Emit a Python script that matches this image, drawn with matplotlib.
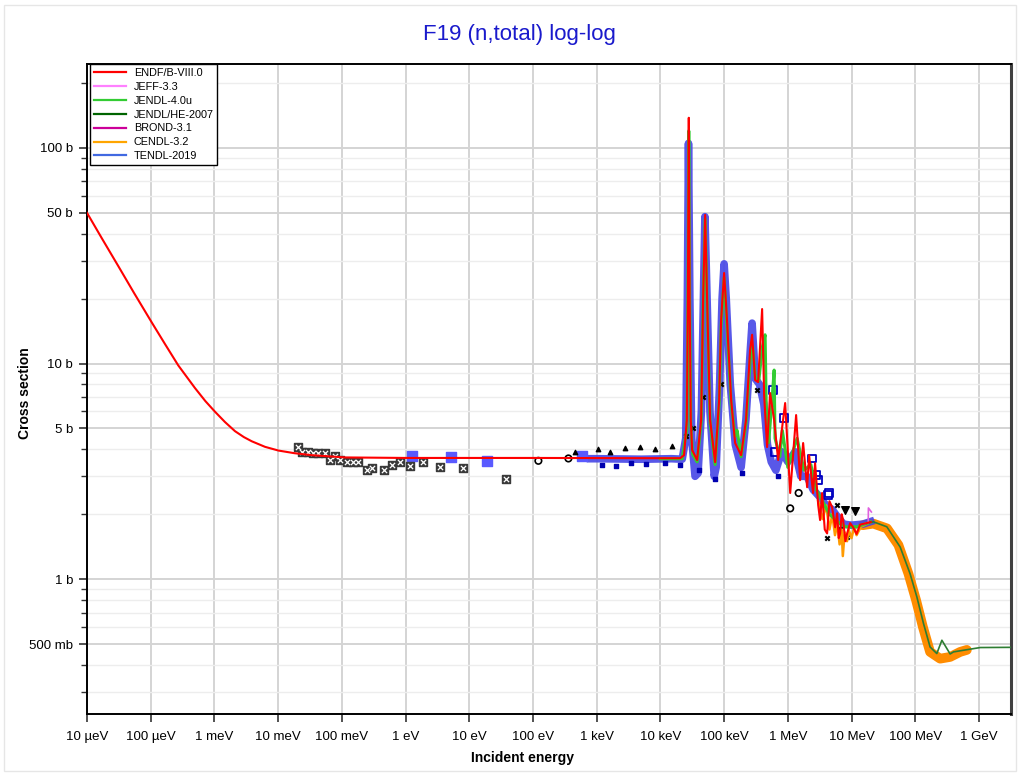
import matplotlib
matplotlib.use("Agg")
import matplotlib.pyplot as plt
from matplotlib.lines import Line2D
from matplotlib.patches import Rectangle
from matplotlib.ticker import FixedLocator, NullLocator, NullFormatter

plt.rcParams['font.family'] = ['Liberation Sans', 'DejaVu Sans']

# ENDF/B-VIII.0 total cross section (energy in eV, cross section in b)
endf_e = [1e-5, 1.7e-5, 3.1e-5, 5.5e-5, 1.04e-4, 1.68e-4, 2.71e-4, 4.95e-4, 7.2e-4,
          1.02e-3, 1.47e-3, 2.1e-3, 2.9e-3, 3.86e-3, 6.22e-3, 1.01e-2, 1.8e-2, 3.36e-2,
          0.112, 1.0, 100.0, 1e4, 2.04e4,
          2.35e4, 2.6e4, 2.7e4, 2.79e4, 2.88e4, 3.0e4, 3.15e4, 3.77e4, 4.36e4, 4.68e4,
          5.04e4, 5.41e4, 6.03e4, 7.23e4, 8.36e4, 8.98e4, 1.0e5, 1.11e5, 1.29e5, 1.49e5,
          1.85e5, 2.21e5, 2.56e5, 2.75e5, 3.07e5, 3.42e5, 3.95e5, 4.25e5, 4.73e5, 5.27e5,
          6.1e5, 7.05e5, 9.08e5, 1.09e6, 1.35e6, 1.56e6, 1.74e6, 2.01e6, 2.16e6,
          2.49e6, 2.68e6, 3.0e6, 3.21e6, 3.45e6, 3.8e6, 4.14e6, 4.5e6, 4.95e6, 5.53e6,
          5.94e6, 6.3e6, 6.62e6, 7.0e6, 7.38e6, 8.0e6, 8.53e6, 9.5e6, 1.06e7, 1.2e7,
          1.36e7, 2.0e7]
endf_xs = [50.0, 38.2, 28.3, 21.2, 15.5, 12.3, 9.8, 7.7, 6.7,
           5.98, 5.35, 4.86, 4.56, 4.36, 4.11, 3.95, 3.84, 3.76,
           3.67, 3.65, 3.65, 3.64, 3.64,
           3.76, 5.47, 19.7, 138.0, 19.7, 5.47, 3.97, 3.57, 5.47, 19.7,
           48.9, 19.7, 5.47, 3.49, 6.77, 15.9, 26.3, 15.9, 6.77, 4.28,
           3.76, 5.47, 11.6, 13.6, 8.38, 8.2, 17.9, 7.14, 4.10, 7.30,
           5.47, 3.57, 6.56, 2.51, 5.77, 2.88, 4.28, 2.67, 3.76,
           2.51, 3.45, 2.2, 1.88, 2.51, 1.7, 1.63, 2.3, 2.16, 1.74,
           2.02, 1.55, 1.63, 2.0, 1.88, 1.5, 1.63, 1.82, 1.74, 1.62,
           1.79, 1.84]

# JENDL-4.0u (resonance region, where it shows under ENDF)
jendl4_e = [1e4, 2.2e4, 2.6e4, 2.7e4, 2.79e4, 2.88e4, 3.0e4, 3.2e4, 3.77e4, 4.36e4,
            4.68e4, 5.04e4, 5.41e4, 6.03e4, 7.23e4, 8.36e4, 8.98e4, 1.0e5, 1.11e5,
            1.29e5, 1.49e5, 1.6e5, 1.85e5, 2.21e5, 2.6e5, 2.8e5, 3.1e5, 3.5e5, 4.0e5,
            4.4e5, 4.6e5, 5.0e5, 5.6e5, 6.1e5, 6.3e5, 7.5e5, 8.2e5, 1.0e6, 1.4e6,
            1.8e6, 2.3e6, 2.8e6, 3.5e6, 4.5e6, 6e6, 8e6, 1.2e7, 2e7]
jendl4_xs = [3.62, 3.62, 5.0, 19.0, 120.0, 19.0, 5.2, 3.8, 3.5, 5.3,
             19.0, 47.0, 19.0, 5.3, 3.4, 6.5, 15.0, 25.0, 15.0,
             6.5, 4.6, 4.9, 3.7, 5.3, 11.0, 12.0, 8.6, 8.3, 12.0,
             13.6, 6.0, 4.3, 6.5, 9.33, 4.5, 3.7, 4.9, 3.3, 4.5,
             3.2, 3.4, 2.6, 2.3, 2.0, 1.85, 1.75, 1.75, 1.84]

# JENDL/HE-2007 high energy part
jendlhe_e = [1.5e7, 2.21e7, 3.58e7, 5.8e7, 8.3e7, 1.06e8, 1.35e8, 1.71e8, 2.18e8,
             2.62e8, 3.53e8, 3.98e8, 6.46e8, 1.05e9, 3.2e9]
jendlhe_xs = [1.80, 1.845, 1.75, 1.41, 1.06, 0.828, 0.622, 0.485, 0.452,
              0.521, 0.45, 0.460, 0.471, 0.482, 0.483]

# CENDL-3.2 fast region
cendl_e = [3e6, 3.5e6, 4e6, 4.5e6, 5e6, 5.5e6, 6e6, 6.5e6, 7e6, 7.3e6, 7.8e6,
           8.5e6, 9e6, 1e7, 1.1e7, 1.2e7, 1.4e7, 1.7e7, 2e7]
cendl_xs = [2.3, 1.9, 2.2, 1.7, 2.0, 1.6, 1.8, 1.45, 1.7, 1.28, 1.65,
            1.5, 1.7, 1.55, 1.75, 1.6, 1.75, 1.8, 1.84]

# JEFF-3.3 end point near 20 MeV
jeff_e = [1.5e7, 1.83e7, 1.84e7, 2.05e7]
jeff_xs = [1.80, 1.83, 2.14, 2.05]

# experimental data: dense blue band
exp_band_e = [800, 1e3, 5e3, 1.5e4, 2.2e4, 2.5e4, 2.65e4, 2.76e4, 2.9e4, 3.1e4, 3.5e4,
              3.9e4, 4.4e4, 4.8e4, 5.0e4, 5.3e4, 6.0e4, 7.0e4, 7.5e4, 8.5e4, 9.3e4,
              1.0e5, 1.08e5, 1.25e5, 1.5e5, 1.85e5, 2.2e5, 2.6e5, 2.75e5, 3.1e5,
              3.6e5, 4.2e5, 4.8e5, 5.5e5, 6.5e5, 8e5, 1.0e6, 1.3e6, 1.6e6, 2.0e6,
              2.5e6, 3.2e6, 4.0e6, 5.0e6, 6.0e6, 7.5e6, 1.0e7, 1.5e7, 2.0e7]
exp_band_xs = [3.62, 3.62, 3.6, 3.62, 3.6, 4.5, 20.0, 105.0, 20.0, 4.5, 3.0,
               3.1, 6.0, 25.0, 48.0, 25.0, 6.0, 3.0, 3.3, 8.0, 20.0,
               29.0, 20.0, 8.0, 4.2, 3.3, 5.5, 12.0, 15.4, 8.5,
               8.0, 6.5, 4.2, 3.5, 3.2, 3.9, 3.5, 3.9, 3.0, 3.0,
               2.6, 2.4, 2.2, 2.1, 1.95, 1.8, 1.78, 1.8, 1.85]

# experimental data: orange band above 15 MeV
exp_orange_e = [1.5e7, 2.2e7, 3.6e7, 5.45e7, 7.83e7, 1.03e8, 1.32e8, 1.71e8,
                2.46e8, 3.53e8, 5.07e8, 6.46e8]
exp_orange_xs = [1.78, 1.81, 1.72, 1.44, 1.06, 0.80, 0.60, 0.46,
                 0.428, 0.436, 0.46, 0.47]

# scattered dark blue points
exp_dblue_e = [1.2e3, 2e3, 3.5e3, 6e3, 1.2e4, 2.0e4, 4.0e4, 7.2e4, 1.9e5, 6.9e5]
exp_dblue_xs = [3.4, 3.35, 3.45, 3.42, 3.45, 3.4, 3.2, 2.9, 3.1, 3.0]

# dark blue open squares (MeV region)
exp_dsq_e = [5.87e5, 6.32e5, 8.75e5, 2.38e6, 2.78e6, 2.99e6, 4.3e6, 4.45e6]
exp_dsq_xs = [7.54, 3.90, 5.58, 3.63, 3.04, 2.88, 2.45, 2.51]

# light blue squares (low energy)
exp_lblue_e = [1.24, 5.14, 19.2, 583.0]
exp_lblue_xs = [3.71, 3.69, 3.54, 3.72]

# black boxed points (thermal)
exp_box_e = [0.0207, 0.0235, 0.0298, 0.0357, 0.0428, 0.0545, 0.0653, 0.0782, 0.0938,
             0.119, 0.152, 0.179, 0.246, 0.294, 0.459, 0.607, 0.820, 1.18, 1.90,
             3.48, 8.08, 37.8]
exp_box_xs = [4.11, 3.90, 3.87, 3.83, 3.83, 3.83, 3.57, 3.72, 3.57,
              3.50, 3.50, 3.50, 3.21, 3.29, 3.21, 3.40, 3.50, 3.36, 3.49,
              3.31, 3.27, 2.90]

# black open circles
exp_circ_e = [121.6, 360.0, 1.09e6, 1.48e6]
exp_circ_xs = [3.54, 3.63, 2.13, 2.51]

# black triangles
exp_tri_e = [458, 1052, 1623, 2790, 4800, 8260, 1.53e4]
exp_tri_xs = [3.88, 4.0, 3.88, 4.04, 4.1, 4.0, 4.16]

# black dots / down triangles (MeV region)
exp_dot_e = [2.5e4, 3.2e4, 4.6e4, 9.0e4, 3.3e5, 6.6e6, 8.5e6, 4.1e6, 5.9e6]
exp_dot_xs = [4.6, 5.0, 7.0, 8.0, 7.5, 1.71, 1.57, 1.55, 2.2]
exp_vtri_e = [7.94e6, 1.14e7]
exp_vtri_xs = [2.10, 2.07]

xtick_vals = [1e-5, 1e-4, 1e-3, 1e-2, 1e-1, 1, 10, 100, 1e3, 1e4, 1e5, 1e6, 1e7, 1e8, 1e9]
xtick_labels = ['10 µeV', '100 µeV', '1 meV', '10 meV', '100 meV', '1 eV', '10 eV',
                '100 eV', '1 keV', '10 keV', '100 keV', '1 MeV', '10 MeV', '100 MeV', '1 GeV']
ytick_vals = [0.5, 1, 5, 10, 50, 100]
ytick_labels = ['500 mb', '1 b', '5 b', '10 b', '50 b', '100 b']

lib_names = ['ENDF/B-VIII.0', 'JEFF-3.3', 'JENDL-4.0u', 'JENDL/HE-2007',
             'BROND-3.1', 'CENDL-3.2', 'TENDL-2019']
lib_colors = ['#ff0000', '#ff80ff', '#33cc33', '#006400', '#cc0099', '#ffa500', '#4169e1']

fig = plt.figure(figsize=(10.2, 7.74), dpi=100)
fig.patches.append(Rectangle((0.004, 0.004), 0.992, 0.99, transform=fig.transFigure,
                             fill=False, edgecolor='#e6e6e6', lw=1))
ax = fig.add_axes([0.0853, 0.0775, 0.906, 0.8398])
ax.set_xscale('log')
ax.set_yscale('log')
ax.set_xlim(1e-5, 3.2e9)
ax.set_ylim(0.237, 245)

# experimental data
ax.plot(exp_orange_e, exp_orange_xs, color='#ff8c00', lw=7, solid_capstyle='round', zorder=2)
ax.plot(exp_band_e, exp_band_xs, color='#4646e6', lw=5.5, alpha=0.9, zorder=2)
ax.scatter(exp_dblue_e, exp_dblue_xs, s=8, marker='s', color='#0000b0', zorder=3)
ax.scatter(exp_dsq_e, exp_dsq_xs, s=30, marker='s', facecolor='none',
           edgecolor='#0000c0', lw=1.3, zorder=3)
ax.scatter(exp_lblue_e, exp_lblue_xs, s=45, marker='s', color='#5a5aff', zorder=3)
ax.scatter(exp_box_e, exp_box_xs, s=32, marker='s', color='#3a3a3a', zorder=3)
ax.scatter(exp_box_e, exp_box_xs, s=14, marker='x', color='white', lw=0.9, zorder=4)
ax.scatter(exp_circ_e, exp_circ_xs, s=22, marker='o', facecolor='none',
           edgecolor='black', lw=1.2, zorder=3)
ax.scatter(exp_tri_e, exp_tri_xs, s=10, marker='^', color='black', zorder=3)
ax.scatter(exp_dot_e, exp_dot_xs, s=10, marker='x', color='black', zorder=3)
ax.scatter(exp_vtri_e, exp_vtri_xs, s=30, marker='v', color='black', zorder=3)

# evaluations
ax.plot(cendl_e, cendl_xs, color='#ff9a00', lw=1.8, zorder=4)
ax.plot(jendl4_e, jendl4_xs, color='#33cc33', lw=2.2, zorder=4)
ax.plot(jendlhe_e, jendlhe_xs, color='#2e7d32', lw=1.2, zorder=5)
ax.plot(jeff_e, jeff_xs, color='#e060e0', lw=1.2, zorder=5)
ax.plot(endf_e, endf_xs, color='#ff0000', lw=1.5, zorder=6)

# ticks and grid
ax.xaxis.set_major_locator(FixedLocator(xtick_vals))
ax.set_xticklabels(xtick_labels)
ax.xaxis.set_minor_locator(NullLocator())
ax.yaxis.set_major_locator(FixedLocator(ytick_vals))
ax.set_yticklabels(ytick_labels)
yminor = [m * 10.0 ** k for k in range(-1, 3) for m in (2, 3, 4, 6, 7, 8, 9)]
ax.yaxis.set_minor_locator(FixedLocator(yminor))
ax.yaxis.set_minor_formatter(NullFormatter())
ax.grid(True, which='major', color='#d4d4d4', lw=1.4, zorder=0)
ax.grid(True, which='minor', axis='y', color='#ededed', lw=1.0, zorder=0)
ax.set_axisbelow(True)
ax.tick_params(which='major', length=6, width=1.2, labelsize=9.5, pad=4, color='#333333')
ax.tick_params(which='minor', length=4, width=1.0, color='#333333')
ax.tick_params(axis='x', pad=6)

for side in ['left', 'bottom', 'top']:
    ax.spines[side].set_linewidth(1.4)
    ax.spines[side].set_color('black')
ax.spines['right'].set_linewidth(2.2)
ax.spines['right'].set_color('#404040')

handles = [Line2D([], [], color=c, lw=1.6) for c in lib_colors]
leg = ax.legend(handles, lib_names, loc='upper left', bbox_to_anchor=(0.003, 1.0),
                fontsize=7.8, handlelength=3.0, handletextpad=0.7, labelspacing=0.36,
                borderaxespad=0, borderpad=0.35, fancybox=False, framealpha=1)
leg.get_frame().set_edgecolor('black')
leg.get_frame().set_linewidth(1.0)
leg.set_zorder(10)

fig.text(0.509, 0.955, 'F19 (n,total) log-log', color='#1a1acc', fontsize=16,
         ha='center', va='center')
fig.text(0.512, 0.021, 'Incident energy', fontsize=10, fontweight='bold',
         ha='center', va='center')
fig.text(0.0245, 0.492, 'Cross section', fontsize=10, fontweight='bold',
         ha='center', va='center', rotation=90)

fig.savefig('out.png', dpi=100, facecolor='white')
